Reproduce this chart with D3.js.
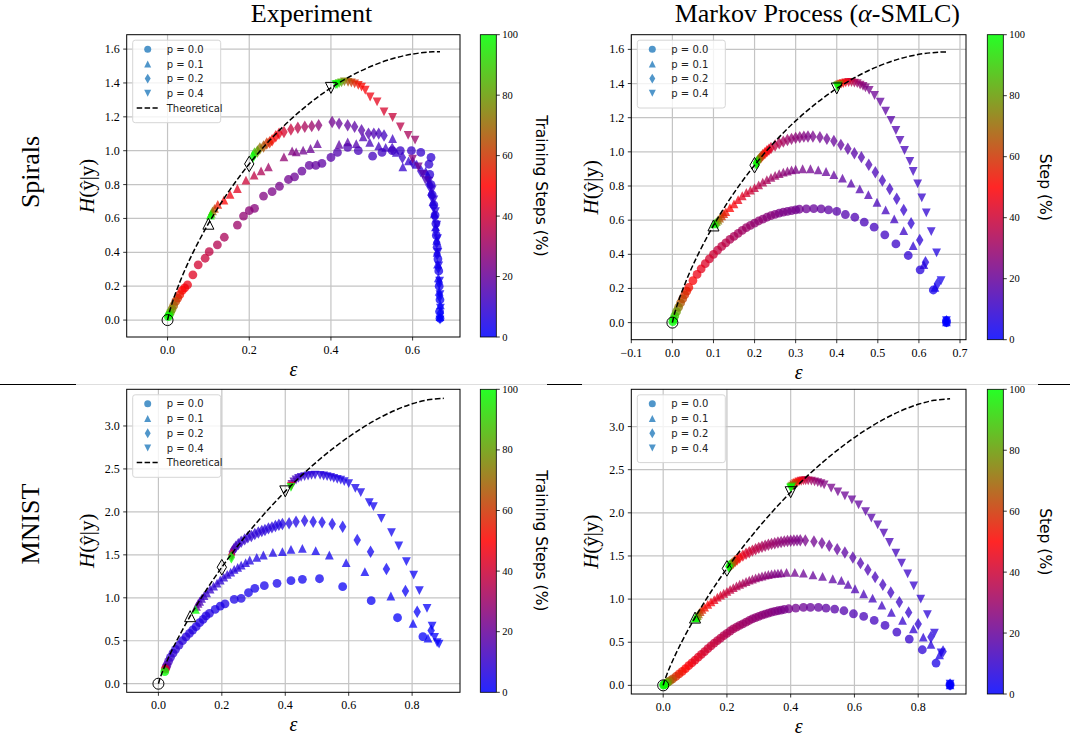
<!DOCTYPE html>
<html>
<head>
<meta charset="utf-8">
<script src="https://cdn.jsdelivr.net/npm/d3@7"></script>
<style>
  body { margin: 0; background: #fff; }
  svg { display: block; }
</style>
</head>
<body>
<script>
// ---- data: each point is [epsilon, H(yhat|y), step %] ----
var pLevels = [0.0, 0.1, 0.2, 0.4];
var markerKinds = ["o", "^", "d", "v"];
var legendLabels = ["p = 0.0", "p = 0.1", "p = 0.2", "p = 0.4"];
var colorbarTicks = [0, 20, 40, 60, 80, 100];

var spiralsYTicks = [0, 0.2, 0.4, 0.6, 0.8, 1.0, 1.2, 1.4, 1.6];
var mnistYTicks = [0, 0.5, 1.0, 1.5, 2.0, 2.5, 3.0];
var expSpiralsXTicks = [0, 0.2, 0.4, 0.6];
var mkSpiralsXTicks = [-0.1, 0, 0.1, 0.2, 0.3, 0.4, 0.5, 0.6, 0.7];
var mnistXTicks = [0, 0.2, 0.4, 0.6, 0.8];

var spiralsTheoryEps = [0, 0.005, 0.01, 0.02, 0.05, 0.1, 0.15, 0.2, 0.25, 0.3, 0.35, 0.4, 0.45, 0.5, 0.55, 0.6, 0.65, 0.667];
var spiralsTheoryH = [0, 0.0504, 0.0908, 0.1614, 0.3364, 0.569, 0.7598, 0.9219, 1.0613, 1.1813, 1.2841, 1.371, 1.4428, 1.5, 1.5428, 1.571, 1.5841, 1.585];
var mnistTheoryEps = [0, 0.005, 0.01, 0.02, 0.05, 0.1, 0.15, 0.2, 0.25, 0.3, 0.35, 0.4, 0.45, 0.5, 0.55, 0.6, 0.65, 0.7, 0.75, 0.8, 0.85, 0.9];
var mnistTheoryH = [0, 0.0612, 0.1125, 0.2048, 0.4449, 0.786, 1.0853, 1.3559, 1.6038, 1.8323, 2.0436, 2.239, 2.4193, 2.585, 2.7362, 2.8729, 2.9945, 3.1002, 3.1887, 3.2578, 3.3042, 3.3219];

// Experiment, Spirals
var expSpiralsP0 = [[0.667,0.01,0],[0.666,0.05,1],[0.667,0.12,2],[0.665,0.2,3],[0.664,0.29,4],[0.662,0.36,4],[0.66,0.43,5],[0.658,0.5,5],[0.657,0.57,6],[0.655,0.62,6],[0.652,0.68,7],[0.648,0.74,7],[0.645,0.8,8],[0.642,0.86,8],[0.64,0.92,9],[0.645,0.96,9],[0.62,0.99,10],[0.597,1.0,11],[0.57,1.0,11],[0.55,1.0,12],[0.525,0.99,12],[0.502,0.968,13],[0.467,1.0,14],[0.441,1.02,15],[0.416,0.99,16],[0.4,0.96,17],[0.378,0.925,18],[0.363,0.913,19],[0.347,0.913,19],[0.329,0.88,20],[0.311,0.846,21],[0.296,0.83,22],[0.274,0.79,23],[0.256,0.758,24],[0.235,0.732,25],[0.213,0.66,26],[0.2,0.646,27],[0.186,0.614,28],[0.171,0.561,30],[0.139,0.489,33],[0.122,0.444,35],[0.102,0.404,37],[0.092,0.365,39],[0.075,0.326,41],[0.062,0.267,44],[0.049,0.208,46],[0.042,0.19,48],[0.036,0.175,50],[0.03,0.15,53],[0.025,0.13,57],[0.02,0.11,62],[0.015,0.085,68],[0.011,0.065,75],[0.007,0.045,83],[0.004,0.03,92],[0.002,0.02,100]];
var expSpiralsP1 = [[0.667,0.02,0],[0.668,0.09,1],[0.665,0.17,2],[0.663,0.25,3],[0.661,0.33,4],[0.66,0.4,4],[0.659,0.47,5],[0.656,0.55,5],[0.653,0.63,6],[0.65,0.7,7],[0.646,0.76,7],[0.641,0.82,8],[0.632,0.88,8],[0.61,0.92,9],[0.59,0.94,10],[0.576,0.905,10],[0.56,0.99,11],[0.551,1.072,12],[0.534,1.02,12],[0.517,1.029,13],[0.495,1.05,14],[0.479,1.082,15],[0.462,1.042,16],[0.441,1.052,17],[0.42,1.038,18],[0.367,1.042,20],[0.35,1.013,21],[0.332,1.003,22],[0.315,0.993,24],[0.305,0.999,25],[0.285,0.964,28],[0.247,0.905,31],[0.229,0.881,34],[0.212,0.856,37],[0.192,0.826,40],[0.171,0.777,44],[0.153,0.742,47],[0.138,0.709,50],[0.123,0.683,54],[0.115,0.66,62],[0.11,0.645,72],[0.107,0.63,85],[0.105,0.62,100]];
var expSpiralsP2 = [[0.668,0.04,0],[0.666,0.14,1],[0.665,0.22,2],[0.663,0.31,3],[0.66,0.39,4],[0.659,0.46,4],[0.657,0.53,5],[0.654,0.61,6],[0.651,0.67,6],[0.647,0.73,7],[0.642,0.79,8],[0.637,0.84,8],[0.62,0.88,9],[0.6,0.93,10],[0.575,0.96,11],[0.55,1.01,12],[0.53,1.09,13],[0.517,1.101,14],[0.505,1.101,15],[0.492,1.101,16],[0.475,1.121,17],[0.458,1.141,18],[0.441,1.15,19],[0.42,1.16,20],[0.403,1.17,22],[0.37,1.15,27],[0.353,1.145,30],[0.336,1.141,33],[0.319,1.135,36],[0.302,1.125,39],[0.285,1.111,42],[0.273,1.101,45],[0.265,1.085,48],[0.256,1.062,51],[0.25,1.05,55],[0.243,1.042,60],[0.235,1.025,66],[0.226,1.013,72],[0.22,0.995,80],[0.213,0.983,88],[0.209,0.964,100]];
var expSpiralsP4 = [[0.667,0.0,0],[0.668,0.07,1],[0.667,0.15,2],[0.666,0.23,3],[0.664,0.32,4],[0.662,0.4,5],[0.661,0.48,5],[0.659,0.56,6],[0.656,0.64,7],[0.652,0.71,8],[0.648,0.77,9],[0.64,0.82,11],[0.631,0.826,14],[0.625,0.86,17],[0.614,0.905,22],[0.6,0.95,26],[0.606,1.062,30],[0.589,1.091,33],[0.57,1.14,36],[0.551,1.196,39],[0.53,1.229,42],[0.513,1.288,45],[0.496,1.317,47],[0.484,1.357,49],[0.475,1.375,51],[0.467,1.386,53],[0.458,1.395,56],[0.45,1.4,60],[0.442,1.403,66],[0.433,1.406,74],[0.426,1.4,82],[0.42,1.396,90],[0.415,1.39,96],[0.412,1.39,100]];

// Markov process, Spirals
var mkSpiralsP0 = [[0.667,0.0,0],[0.667,0.012,1],[0.635,0.191,4],[0.603,0.309,7],[0.574,0.393,9],[0.544,0.461,11],[0.517,0.514,12],[0.491,0.559,13],[0.467,0.588,14],[0.444,0.617,15],[0.421,0.633,16],[0.4,0.651,17],[0.38,0.66,18],[0.362,0.666,19],[0.344,0.668,20],[0.326,0.666,21],[0.309,0.664,22],[0.3,0.66,22],[0.29,0.656,23],[0.28,0.652,23],[0.27,0.647,24],[0.26,0.641,24],[0.25,0.634,25],[0.24,0.626,26],[0.23,0.617,26],[0.22,0.606,27],[0.21,0.595,28],[0.2,0.583,28],[0.19,0.57,29],[0.18,0.556,30],[0.17,0.54,31],[0.16,0.523,32],[0.15,0.505,33],[0.14,0.487,34],[0.13,0.467,36],[0.12,0.446,37],[0.11,0.424,38],[0.1,0.4,40],[0.09,0.373,41],[0.08,0.345,43],[0.07,0.315,45],[0.06,0.282,46],[0.05,0.246,49],[0.04,0.206,52],[0.035,0.184,55],[0.03,0.162,58],[0.025,0.139,62],[0.02,0.115,66],[0.015,0.09,72],[0.01,0.064,79],[0.006,0.04,87],[0.003,0.02,94],[0.001,0.006,100]];
var mkSpiralsP1 = [[0.667,0.004,0],[0.639,0.207,4],[0.612,0.34,7],[0.586,0.451,9],[0.563,0.539,11],[0.54,0.608,12],[0.519,0.66,13],[0.498,0.705,14],[0.477,0.75,15],[0.456,0.783,16],[0.435,0.817,17],[0.414,0.846,18],[0.393,0.867,19],[0.374,0.885,20],[0.355,0.895,21],[0.336,0.901,22],[0.317,0.901,23],[0.3,0.898,24],[0.29,0.894,25],[0.28,0.888,26],[0.27,0.881,27],[0.26,0.872,28],[0.25,0.862,30],[0.24,0.85,31],[0.23,0.837,33],[0.22,0.823,34],[0.21,0.807,36],[0.2,0.79,38],[0.19,0.776,40],[0.18,0.762,42],[0.17,0.743,44],[0.16,0.72,46],[0.15,0.695,48],[0.14,0.673,50],[0.13,0.65,53],[0.125,0.638,56],[0.12,0.625,60],[0.115,0.612,66],[0.111,0.601,74],[0.107,0.592,83],[0.104,0.584,92],[0.102,0.578,100]];
var mkSpiralsP2 = [[0.667,0.008,0],[0.645,0.227,4],[0.616,0.354,6],[0.602,0.484,8],[0.581,0.582,9],[0.563,0.66,10],[0.546,0.725,11],[0.529,0.783,12],[0.511,0.832,13],[0.494,0.881,14],[0.478,0.925,15],[0.46,0.969,16],[0.443,0.992,17],[0.427,1.018,18],[0.41,1.041,19],[0.393,1.063,20],[0.376,1.076,21],[0.359,1.086,22],[0.342,1.09,23],[0.33,1.09,24],[0.32,1.089,25],[0.31,1.086,26],[0.3,1.082,27],[0.29,1.076,28],[0.28,1.069,30],[0.27,1.06,32],[0.26,1.05,34],[0.25,1.037,37],[0.24,1.022,41],[0.235,1.013,44],[0.23,1.003,47],[0.225,0.992,51],[0.22,0.981,55],[0.216,0.97,60],[0.212,0.96,66],[0.209,0.951,74],[0.207,0.944,82],[0.205,0.937,91],[0.204,0.932,100]];
var mkSpiralsP4 = [[0.667,0.012,0],[0.654,0.246,4],[0.643,0.408,6],[0.63,0.533,8],[0.618,0.643,9],[0.607,0.731,10],[0.597,0.813,11],[0.586,0.885,12],[0.578,0.944,13],[0.565,1.008,14],[0.554,1.067,15],[0.544,1.125,16],[0.532,1.184,17],[0.519,1.239,18],[0.506,1.291,19],[0.492,1.33,21],[0.479,1.36,23],[0.47,1.375,25],[0.464,1.383,26],[0.457,1.391,28],[0.45,1.399,30],[0.443,1.403,33],[0.436,1.406,37],[0.429,1.406,41],[0.422,1.404,45],[0.416,1.4,50],[0.411,1.396,56],[0.407,1.392,64],[0.404,1.388,74],[0.402,1.384,86],[0.401,1.381,100]];

// Experiment, MNIST
var expMnistP0 = [[0.834,0.547,1],[0.754,0.768,1],[0.671,0.966,2],[0.581,1.129,2],[0.508,1.222,3],[0.454,1.215,3],[0.418,1.199,3],[0.374,1.168,4],[0.334,1.141,4],[0.304,1.11,4],[0.284,1.059,4],[0.261,0.993,5],[0.239,0.982,5],[0.21,0.93,5],[0.195,0.904,5],[0.179,0.865,5],[0.161,0.819,6],[0.15,0.79,6],[0.141,0.749,6],[0.13,0.71,6],[0.119,0.664,6],[0.108,0.625,6],[0.098,0.586,7],[0.087,0.545,7],[0.076,0.501,7],[0.065,0.45,8],[0.054,0.4,8],[0.046,0.355,9],[0.038,0.307,10],[0.032,0.26,12],[0.027,0.217,15],[0.024,0.19,20],[0.022,0.17,45],[0.02,0.14,100]];
var expMnistP1 = [[0.85,0.53,1],[0.803,0.702,1],[0.733,1.021,2],[0.651,1.304,2],[0.592,1.409,3],[0.539,1.498,3],[0.496,1.548,3],[0.454,1.576,4],[0.418,1.564,4],[0.391,1.537,4],[0.361,1.529,5],[0.331,1.498,5],[0.31,1.47,5],[0.288,1.44,6],[0.275,1.41,6],[0.261,1.381,6],[0.25,1.355,7],[0.239,1.331,7],[0.228,1.3,7],[0.217,1.273,8],[0.206,1.24,8],[0.195,1.207,8],[0.185,1.17,9],[0.174,1.137,9],[0.163,1.1,10],[0.152,1.059,10],[0.144,1.025,11],[0.136,0.993,12],[0.13,0.96,14],[0.125,0.935,16],[0.12,0.9,20],[0.117,0.865,100]];
var expMnistP2 = [[0.86,0.62,1],[0.816,0.838,1],[0.779,1.079,2],[0.719,1.335,2],[0.669,1.537,3],[0.627,1.672,3],[0.581,1.828,3],[0.548,1.859,4],[0.516,1.878,4],[0.488,1.886,4],[0.461,1.898,5],[0.434,1.886,5],[0.412,1.867,5],[0.391,1.859,6],[0.38,1.85,6],[0.369,1.835,6],[0.358,1.82,7],[0.347,1.808,7],[0.336,1.79,7],[0.326,1.777,8],[0.315,1.76,8],[0.304,1.742,8],[0.293,1.72,9],[0.282,1.704,9],[0.272,1.68,10],[0.261,1.653,10],[0.252,1.625,11],[0.244,1.595,12],[0.238,1.565,14],[0.233,1.537,17],[0.231,1.5,40],[0.23,1.471,100]];
var expMnistP4 = [[0.885,0.46,0],[0.879,0.477,1],[0.871,0.54,1],[0.863,0.671,1],[0.847,0.877,1],[0.823,1.083,2],[0.805,1.265,2],[0.782,1.42,2],[0.758,1.603,2],[0.735,1.758,3],[0.703,1.925,3],[0.678,2.061,3],[0.665,2.107,3],[0.638,2.224,4],[0.621,2.274,4],[0.6,2.33,4],[0.586,2.352,5],[0.575,2.37,5],[0.564,2.379,5],[0.553,2.39,6],[0.543,2.402,6],[0.532,2.41,6],[0.521,2.418,7],[0.51,2.425,7],[0.494,2.429,7],[0.483,2.425,8],[0.472,2.418,8],[0.461,2.41,9],[0.45,2.402,10],[0.442,2.39,11],[0.434,2.371,12],[0.427,2.35,14],[0.421,2.321,17],[0.419,2.3,45],[0.418,2.286,100]];

// Markov process, MNIST
var mkMnistP0 = [[0.9,0.0,0],[0.9,0.015,1],[0.856,0.259,5],[0.813,0.413,8],[0.772,0.537,10],[0.733,0.618,11],[0.696,0.695,12],[0.662,0.753,13],[0.629,0.799,14],[0.597,0.83,15],[0.567,0.865,16],[0.538,0.884,17],[0.511,0.896,18],[0.487,0.903,19],[0.462,0.903,20],[0.44,0.903,21],[0.416,0.896,22],[0.394,0.888,23],[0.38,0.88,23],[0.37,0.873,24],[0.36,0.865,24],[0.35,0.857,25],[0.34,0.848,25],[0.33,0.838,26],[0.32,0.827,26],[0.31,0.814,27],[0.3,0.8,27],[0.29,0.786,28],[0.28,0.77,28],[0.27,0.752,29],[0.26,0.733,30],[0.25,0.714,30],[0.24,0.695,31],[0.23,0.675,32],[0.22,0.655,33],[0.21,0.63,33],[0.2,0.603,34],[0.19,0.576,35],[0.18,0.548,36],[0.17,0.519,37],[0.16,0.49,38],[0.15,0.458,39],[0.14,0.425,40],[0.13,0.392,41],[0.12,0.36,42],[0.11,0.327,44],[0.1,0.293,45],[0.09,0.26,46],[0.08,0.228,48],[0.07,0.195,50],[0.06,0.163,52],[0.05,0.133,54],[0.04,0.103,57],[0.03,0.076,62],[0.022,0.055,68],[0.015,0.037,76],[0.01,0.025,83],[0.006,0.015,90],[0.003,0.008,96],[0.001,0.003,100]];
var mkMnistP1 = [[0.9,0.005,0],[0.867,0.355,5],[0.84,0.475,7],[0.816,0.56,8],[0.785,0.655,9],[0.751,0.753,10],[0.716,0.846,11],[0.686,0.93,12],[0.657,1.012,13],[0.629,1.062,14],[0.602,1.12,15],[0.58,1.17,16],[0.559,1.216,17],[0.532,1.236,18],[0.5,1.263,19],[0.47,1.282,20],[0.44,1.301,21],[0.413,1.309,22],[0.387,1.309,23],[0.37,1.305,24],[0.36,1.301,24],[0.35,1.298,25],[0.34,1.293,25],[0.33,1.285,26],[0.32,1.277,27],[0.31,1.268,27],[0.3,1.258,28],[0.29,1.246,29],[0.28,1.233,30],[0.27,1.219,31],[0.26,1.204,32],[0.25,1.189,33],[0.24,1.172,34],[0.23,1.154,35],[0.22,1.133,36],[0.21,1.112,38],[0.2,1.09,39],[0.19,1.068,40],[0.18,1.045,42],[0.17,1.023,43],[0.16,0.995,45],[0.15,0.968,47],[0.14,0.94,49],[0.13,0.908,52],[0.122,0.88,56],[0.116,0.855,61],[0.111,0.83,68],[0.107,0.81,76],[0.104,0.795,85],[0.102,0.785,93],[0.101,0.78,100]];
var mkMnistP2 = [[0.9,0.01,0],[0.878,0.394,5],[0.84,0.56,7],[0.8,0.71,9],[0.77,0.846,10],[0.741,0.965,11],[0.714,1.077,12],[0.689,1.166,13],[0.665,1.255,14],[0.642,1.34,15],[0.619,1.417,16],[0.595,1.483,17],[0.57,1.541,18],[0.546,1.579,19],[0.521,1.618,20],[0.498,1.649,21],[0.473,1.668,22],[0.446,1.68,23],[0.43,1.682,24],[0.42,1.681,24],[0.41,1.679,25],[0.4,1.677,25],[0.39,1.674,26],[0.38,1.669,27],[0.37,1.663,27],[0.36,1.656,28],[0.35,1.648,29],[0.34,1.64,30],[0.33,1.63,31],[0.32,1.619,32],[0.31,1.607,33],[0.3,1.594,35],[0.29,1.579,36],[0.28,1.562,38],[0.27,1.544,40],[0.26,1.525,42],[0.25,1.504,45],[0.24,1.481,48],[0.232,1.46,52],[0.226,1.441,57],[0.22,1.422,63],[0.215,1.405,70],[0.211,1.392,79],[0.208,1.384,88],[0.206,1.378,100]];
var mkMnistP4 = [[0.9,0.015,0],[0.872,0.375,5],[0.851,0.606,7],[0.829,0.819,8],[0.808,1.0,9],[0.786,1.154,10],[0.767,1.293,11],[0.748,1.417,12],[0.73,1.533,13],[0.71,1.656,14],[0.692,1.764,15],[0.673,1.861,16],[0.653,1.938,17],[0.635,2.015,18],[0.613,2.093,19],[0.592,2.151,20],[0.57,2.197,21],[0.548,2.243,22],[0.527,2.286,23],[0.505,2.324,25],[0.495,2.338,26],[0.485,2.35,27],[0.475,2.36,29],[0.465,2.367,31],[0.455,2.371,34],[0.447,2.372,37],[0.44,2.371,40],[0.433,2.366,43],[0.426,2.358,47],[0.42,2.348,51],[0.415,2.337,56],[0.41,2.323,62],[0.406,2.31,70],[0.403,2.3,80],[0.401,2.292,90],[0.4,2.286,100]];

// ---- layout ----
var W = 1070, H = 736;
var serif = "'Liberation Serif', 'DejaVu Serif', serif";
var sans = "'DejaVu Sans', sans-serif";

var panels = [
  { box: [126.7, 34.7, 460, 337], xDom: [-0.1, 0.716], yDom: [-0.1, 1.685],
    xTicks: expSpiralsXTicks, yTicks: spiralsYTicks,
    series: [expSpiralsP0, expSpiralsP1, expSpiralsP2, expSpiralsP4],
    thEps: spiralsTheoryEps, thH: spiralsTheoryH, legendTheory: true,
    cbX: 480.3, cbLabel: "Training Steps (%)", cbLabelX: 536, title: "Experiment",
    rowLabel: "Spirals", rowLabelY: 172 },
  { box: [631.3, 34.7, 966, 339.7], xDom: [-0.1, 0.7146], yDom: [-0.1, 1.686],
    xTicks: mkSpiralsXTicks, yTicks: spiralsYTicks,
    series: [mkSpiralsP0, mkSpiralsP1, mkSpiralsP2, mkSpiralsP4],
    thEps: spiralsTheoryEps, thH: spiralsTheoryH, legendTheory: false,
    cbX: 987.3, cbLabel: "Step (%)", cbLabelX: 1040, title: "Markov Process (α-SMLC)" },
  { box: [126.7, 389.3, 460, 692.3], xDom: [-0.1, 0.951], yDom: [-0.1, 3.427],
    xTicks: mnistXTicks, yTicks: mnistYTicks,
    series: [expMnistP0, expMnistP1, expMnistP2, expMnistP4],
    thEps: mnistTheoryEps, thH: mnistTheoryH, legendTheory: true,
    cbX: 480.3, cbLabel: "Training Steps (%)", cbLabelX: 536,
    rowLabel: "MNIST", rowLabelY: 524 },
  { box: [631.3, 389.3, 966, 694], xDom: [-0.1, 0.95], yDom: [-0.1, 3.432],
    xTicks: mnistXTicks, yTicks: mnistYTicks,
    series: [mkMnistP0, mkMnistP1, mkMnistP2, mkMnistP4],
    thEps: mnistTheoryEps, thH: mnistTheoryH, legendTheory: false,
    cbX: 987.3, cbLabel: "Step (%)", cbLabelX: 1040 }
];

var blueRed = d3.interpolateRgb("rgb(0,0,255)", "rgb(255,0,0)");
var redGreen = d3.interpolateRgb("rgb(255,0,0)", "rgb(0,255,0)");
function stepColor(s) {
  var t = s / 100;
  return t <= 0.5 ? blueRed(t / 0.5) : redGreen((t - 0.5) / 0.5);
}

function markerPath(kind, ms) {
  var r = ms / 2;
  if (kind === "o") {
    var p = d3.path(); p.arc(0, 0, r, 0, 2 * Math.PI); p.closePath(); return p.toString();
  }
  if (kind === "^") return "M0," + (-r) + "L" + r + "," + r + "L" + (-r) + "," + r + "Z";
  if (kind === "v") return "M0," + r + "L" + r + "," + (-r) + "L" + (-r) + "," + (-r) + "Z";
  var h = ms * 0.707, w = h * 0.6;
  return "M0," + (-h) + "L" + w + ",0L0," + h + "L" + (-w) + ",0Z";
}

var svg = d3.select("body").append("svg").attr("width", W).attr("height", H);
svg.append("rect").attr("width", W).attr("height", H).attr("fill", "#fff");
var defs = svg.append("defs");

var grad = defs.append("linearGradient").attr("id", "cmap")
  .attr("x1", 0).attr("y1", 1).attr("x2", 0).attr("y2", 0);
[[0, 0], [0.5, 50], [1, 100]].forEach(function (s) {
  grad.append("stop").attr("offset", s[0]).attr("stop-color", stepColor(s[1]));
});

// row separator
svg.append("line").attr("x1", 0).attr("x2", W).attr("y1", 384.5).attr("y2", 384.5)
  .attr("stroke", "#dedede").attr("stroke-width", 1);
[[0, 76], [547, 582], [1038, 1070]].forEach(function (s) {
  svg.append("line").attr("x1", s[0]).attr("x2", s[1]).attr("y1", 384.5).attr("y2", 384.5)
    .attr("stroke", "#000").attr("stroke-width", 1);
});

panels.forEach(function (pn, pi) {
  var x0 = pn.box[0], y0 = pn.box[1], x1 = pn.box[2], y1 = pn.box[3];
  var x = d3.scaleLinear().domain(pn.xDom).range([x0, x1]);
  var y = d3.scaleLinear().domain(pn.yDom).range([y1, y0]);
  var g = svg.append("g");

  defs.append("clipPath").attr("id", "clip" + pi).append("rect")
    .attr("x", x0).attr("y", y0).attr("width", x1 - x0).attr("height", y1 - y0);

  // grid
  g.selectAll(".gx").data(pn.xTicks).enter().append("line")
    .attr("x1", function (d) { return x(d); }).attr("x2", function (d) { return x(d); })
    .attr("y1", y0).attr("y2", y1).attr("stroke", "#c4c4c4").attr("stroke-width", 1.2);
  g.selectAll(".gy").data(pn.yTicks).enter().append("line")
    .attr("y1", function (d) { return y(d); }).attr("y2", function (d) { return y(d); })
    .attr("x1", x0).attr("x2", x1).attr("stroke", "#c4c4c4").attr("stroke-width", 1.2);

  // scatter
  var plot = g.append("g").attr("clip-path", "url(#clip" + pi + ")");
  pn.series.forEach(function (ser, si) {
    plot.append("g").selectAll("path").data(ser).enter().append("path")
      .attr("d", markerPath(markerKinds[si], 8.8))
      .attr("transform", function (d) { return "translate(" + x(d[0]) + "," + y(d[1]) + ")"; })
      .attr("fill", function (d) { return stepColor(d[2]); })
      .attr("fill-opacity", 0.75);
  });

  // theoretical curve
  var thPts = pn.thEps.map(function (e, i) { return [e, pn.thH[i]]; });
  plot.append("path").datum(thPts)
    .attr("d", d3.line().x(function (d) { return x(d[0]); }).y(function (d) { return y(d[1]); })
      .curve(d3.curveCatmullRom))
    .attr("fill", "none").attr("stroke", "#000").attr("stroke-width", 1.5)
    .attr("stroke-dasharray", "5.5,2.4");

  // open markers at theoretical points
  pLevels.forEach(function (p, k) {
    var idx = pn.thEps.indexOf(p);
    plot.append("path").attr("d", markerPath(markerKinds[k], 11))
      .attr("transform", "translate(" + x(p) + "," + y(pn.thH[idx]) + ")")
      .attr("fill", "none").attr("stroke", "#000").attr("stroke-width", 1);
  });

  // frame + ticks
  g.append("rect").attr("x", x0).attr("y", y0).attr("width", x1 - x0).attr("height", y1 - y0)
    .attr("fill", "none").attr("stroke", "#000").attr("stroke-width", 1);
  var fmt = d3.format(".1f");
  pn.xTicks.forEach(function (t) {
    g.append("line").attr("x1", x(t)).attr("x2", x(t)).attr("y1", y1).attr("y2", y1 + 3.5)
      .attr("stroke", "#000").attr("stroke-width", 0.8);
    g.append("text").attr("x", x(t)).attr("y", y1 + 17).attr("text-anchor", "middle")
      .attr("font-family", serif).attr("font-size", 12).text(fmt(t));
  });
  pn.yTicks.forEach(function (t) {
    g.append("line").attr("x1", x0 - 3.5).attr("x2", x0).attr("y1", y(t)).attr("y2", y(t))
      .attr("stroke", "#000").attr("stroke-width", 0.8);
    g.append("text").attr("x", x0 - 7).attr("y", y(t) + 4).attr("text-anchor", "end")
      .attr("font-family", serif).attr("font-size", 12).text(fmt(t));
  });

  // axis labels
  var cx = (x0 + x1) / 2, cy = (y0 + y1) / 2;
  g.append("text").attr("x", cx).attr("y", y1 + 39).attr("text-anchor", "middle")
    .attr("font-family", serif).attr("font-style", "italic").attr("font-size", 20).text("ε");
  var yl = g.append("text").attr("transform", "translate(" + (x0 - 33) + "," + cy + ") rotate(-90)")
    .attr("text-anchor", "middle").attr("font-family", serif).attr("font-size", 21);
  yl.append("tspan").attr("font-style", "italic").text("H");
  yl.append("tspan").text("(ŷ|y)");

  // legend
  var nRows = pn.legendTheory ? 5 : 4;
  var lx = x0 + 6, ly = y0 + 5.5;
  var lg = g.append("g");
  lg.append("rect").attr("x", lx).attr("y", ly).attr("width", 88).attr("height", 9 + nRows * 14.7)
    .attr("rx", 2.5).attr("fill", "#fff").attr("fill-opacity", 0.8)
    .attr("stroke", "#d6d6d6").attr("stroke-width", 1);
  legendLabels.forEach(function (lab, k) {
    var ry = ly + 9 + k * 14.7;
    lg.append("path").attr("d", markerPath(markerKinds[k], 7))
      .attr("transform", "translate(" + (lx + 15) + "," + ry + ")")
      .attr("fill", "#3d8bc4").attr("fill-opacity", 0.9);
    lg.append("text").attr("x", lx + 34).attr("y", ry + 3.6)
      .attr("font-family", sans).attr("font-size", 10).attr("fill", "#222").text(lab);
  });
  if (pn.legendTheory) {
    var ry = ly + 9 + 4 * 14.7;
    lg.append("line").attr("x1", lx + 4).attr("x2", lx + 25).attr("y1", ry).attr("y2", ry)
      .attr("stroke", "#000").attr("stroke-width", 1.5).attr("stroke-dasharray", "5.5,2.4");
    lg.append("text").attr("x", lx + 34).attr("y", ry + 3.6)
      .attr("font-family", sans).attr("font-size", 10).attr("fill", "#222").text("Theoretical");
  }

  // colorbar
  var cb = d3.scaleLinear().domain([0, 100]).range([y1, y0]);
  g.append("rect").attr("x", pn.cbX).attr("y", y0).attr("width", 16).attr("height", y1 - y0)
    .attr("fill", "url(#cmap)").attr("fill-opacity", 0.85)
    .attr("stroke", "#000").attr("stroke-width", 0.8);
  colorbarTicks.forEach(function (t) {
    g.append("line").attr("x1", pn.cbX + 16).attr("x2", pn.cbX + 19.5)
      .attr("y1", cb(t)).attr("y2", cb(t)).attr("stroke", "#000").attr("stroke-width", 0.8);
    g.append("text").attr("x", pn.cbX + 22).attr("y", cb(t) + 3.5)
      .attr("font-family", serif).attr("font-size", 10.5).text(t);
  });
  g.append("text").attr("transform", "translate(" + pn.cbLabelX + "," + cy + ") rotate(90)")
    .attr("text-anchor", "middle").attr("font-family", sans).attr("font-size", 15.5)
    .text(pn.cbLabel);

  // titles and row labels
  if (pn.title) {
    var tt = g.append("text").attr("x", (x0 + pn.cbX + 16) / 2).attr("y", 22)
      .attr("text-anchor", "middle").attr("font-family", serif).attr("font-size", 26);
    if (pi === 1) {
      tt.append("tspan").text("Markov Process (");
      tt.append("tspan").attr("font-style", "italic").text("α");
      tt.append("tspan").text("-SMLC)");
    } else {
      tt.text(pn.title);
    }
  }
  if (pn.rowLabel) {
    g.append("text").attr("transform", "translate(39," + pn.rowLabelY + ") rotate(-90)")
      .attr("text-anchor", "middle").attr("font-family", serif).attr("font-size", 26)
      .text(pn.rowLabel);
  }
});
</script>
</body>
</html>
